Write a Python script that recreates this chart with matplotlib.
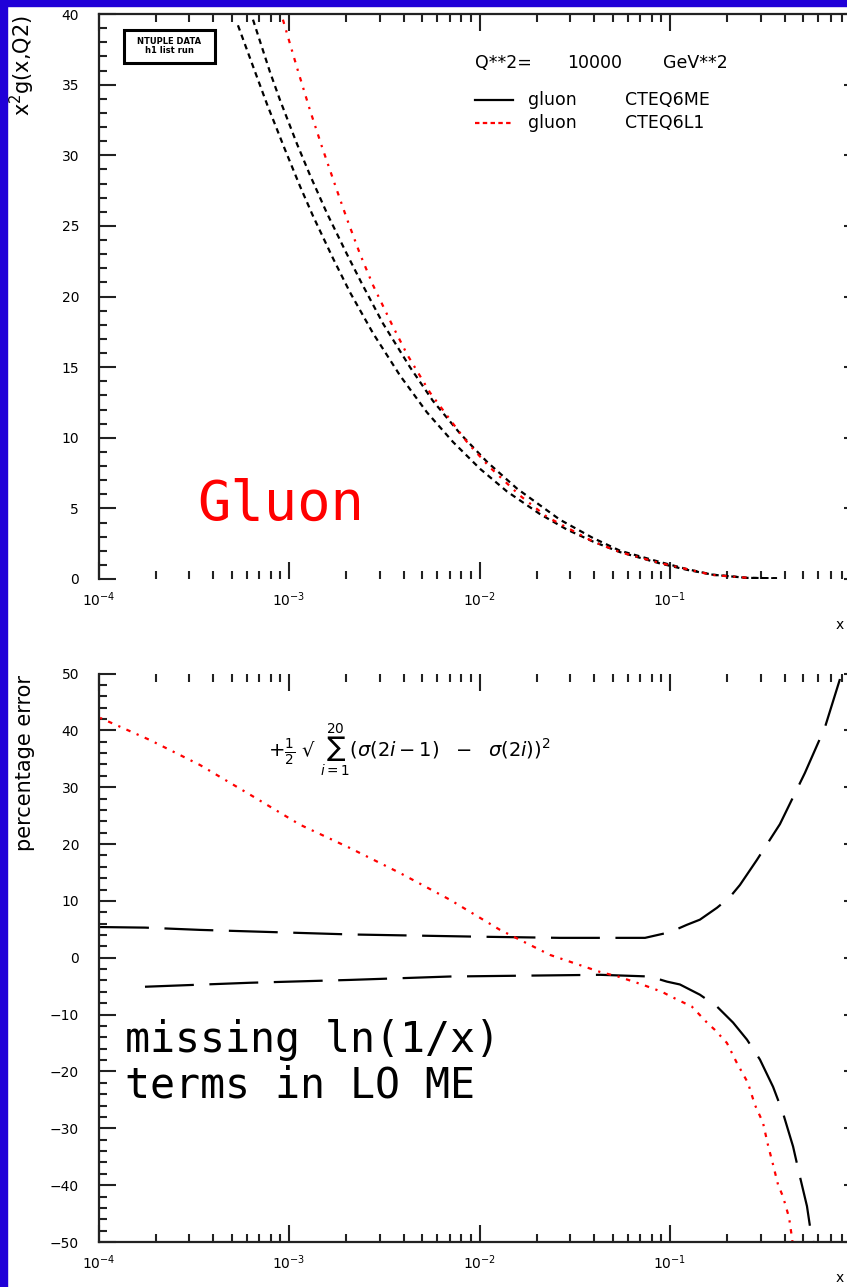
import numpy as np
import matplotlib
matplotlib.use("Agg")
import matplotlib.pyplot as plt
import matplotlib.ticker as mticker
from matplotlib.patches import Rectangle

# --- data ---
# top panel: x^2 g(x,Q2) at Q2 = 10000 GeV^2, log10(x) and value
lx_lo = [-3.268, -3.178, -3.115, -3.021, -2.942, -2.874, -2.769, -2.680, -2.559, -2.417,
         -2.276, -2.139, -1.997, -1.856, -1.683, -1.541, -1.404, -1.262, -1.052, -0.911,
         -0.774, -0.596, -0.438]
g_lo = [39.2, 35.9, 33.6, 30.4, 27.8, 25.7, 22.7, 20.3, 17.4, 14.4,
        11.8, 9.7, 7.8, 6.2, 4.6, 3.5, 2.65, 1.9, 1.1, 0.65,
        0.3, 0.08, 0.05]
lx_hi = [-3.189, -3.100, -3.047, -2.958, -2.890, -2.801, -2.696, -2.617, -2.507, -2.365,
         -2.244, -2.102, -1.961, -1.803, -1.578, -1.404, -1.262, -1.052, -0.911, -0.774,
         -0.596, -0.438]
g_hi = [39.6, 35.9, 33.9, 30.8, 28.6, 25.9, 23.0, 20.9, 18.1, 15.0,
        12.6, 10.3, 8.3, 6.4, 4.2, 2.9, 2.0, 1.2, 0.7, 0.3,
        0.08, 0.05]
lx_l1 = [-3.032, -2.958, -2.890, -2.827, -2.748, -2.696, -2.627, -2.559, -2.459, -2.380,
         -2.260, -2.139, -2.060, -1.945, -1.787, -1.646, -1.404, -1.262, -1.052, -0.774,
         -0.580]
g_l1 = [39.6, 36.2, 33.2, 30.6, 27.5, 25.5, 23.0, 20.8, 18.0, 15.9,
        13.2, 11.0, 9.6, 7.9, 5.9, 4.4, 2.65, 1.9, 1.13, 0.28,
        0.07]

# bottom panel: percentage error
lx_eu = [-3.992, -3.756, -3.467, -3.073, -2.680, -1.997, -1.578, -1.131, -1.000, -0.911,
         -0.843, -0.753, -0.685, -0.633, -0.544, -0.423, -0.292, -0.187, -0.108, -0.08]
err_up = [5.4, 5.3, 4.9, 4.5, 4.1, 3.7, 3.5, 3.5, 4.5, 5.8,
          6.7, 8.8, 10.7, 12.8, 17.2, 23.5, 32.5, 40.5, 49.0, 53.0]
lx_ed = [-3.756, -3.205, -2.680, -2.155, -1.367, -1.105, -1.016, -0.948, -0.843, -0.753,
         -0.669, -0.596, -0.528, -0.459, -0.407, -0.354, -0.318, -0.281, -0.265, -0.249,
         -0.24]
err_dn = [-5.1, -4.4, -3.9, -3.3, -3.0, -3.3, -4.2, -4.7, -6.5, -8.6,
          -11.4, -14.4, -17.9, -22.7, -27.3, -33.2, -38.5, -43.7, -47.3, -49.6,
          -52.0]
lx_r = [-3.992, -3.730, -3.467, -3.205, -2.942, -2.680, -2.417, -2.155, -1.892, -1.630,
        -1.367, -1.273, -1.147, -1.042, -0.990, -0.885, -0.806, -0.764, -0.701, -0.649,
        -0.591, -0.554, -0.512, -0.486, -0.459, -0.433, -0.407, -0.375, -0.360, -0.35]
err_l1 = [42.2, 38.3, 33.9, 28.7, 23.4, 19.3, 14.9, 10.2, 4.9, 0.5,
          -2.5, -3.3, -4.7, -6.0, -6.9, -8.6, -11.4, -12.7, -15.0, -18.5,
          -22.0, -25.9, -29.0, -32.9, -36.4, -39.9, -42.0, -45.7, -49.2, -52.0]

x_ticks = [1e-4, 1e-3, 1e-2, 1e-1, 1]
x_ticklabels = [r"$10^{-4}$", r"$10^{-3}$", r"$10^{-2}$", r"$10^{-1}$", ""]

W, H = 847, 1287
fig = plt.figure(figsize=(W / 100, H / 100), dpi=100)
fig.patch.set_facecolor("white")

blue = "#2000d8"
fig.patches.append(Rectangle((0, 0), 7 / W, 1, transform=fig.transFigure, color=blue, zorder=10))
fig.patches.append(Rectangle((0, 1 - 6 / H), 1, 6 / H, transform=fig.transFigure, color=blue, zorder=10))

left = 98.5 / W
width = (860.5 - 98.5) / W
ax1 = fig.add_axes([left, 1 - 579 / H, width, 565 / H])
ax2 = fig.add_axes([left, 1 - 1242 / H, width, 568.5 / H])


def style_axes(ax):
    ax.set_xscale("log")
    ax.set_xlim(1e-4, 1)
    ax.set_xticks(x_ticks, labels=x_ticklabels)
    ax.xaxis.set_minor_locator(mticker.LogLocator(base=10, subs=np.arange(2, 10), numticks=10))
    ax.xaxis.set_minor_formatter(mticker.NullFormatter())
    ax.tick_params(which="both", direction="in", top=True, right=True, width=1.5,
                   labelsize=10, color="#222222")
    ax.tick_params(which="major", length=12)
    ax.tick_params(which="minor", length=6)
    ax.tick_params(axis="y", pad=14)
    ax.tick_params(axis="x", pad=8)
    for s in ax.spines.values():
        s.set_linewidth(1.6)
        s.set_color("#222222")


# --- top panel ---
style_axes(ax1)
ax1.set_ylim(0, 40)
ax1.yaxis.set_major_locator(mticker.MultipleLocator(5))
ax1.yaxis.set_minor_locator(mticker.MultipleLocator(1))
ax1.spines["bottom"].set_visible(False)

ax1.plot(10 ** np.array(lx_lo), g_lo, color="black", lw=1.6, ls=(0, (2.5, 2)))
ax1.plot(10 ** np.array(lx_hi), g_hi, color="black", lw=1.6, ls=(0, (2.5, 2)))
ax1.plot(10 ** np.array(lx_l1), g_l1, color="red", lw=1.6, ls=(0, (2, 3, 1, 3)))

# small stamp box in the corner
ax1.add_patch(Rectangle((0.0335, 0.913), 0.119, 0.059, transform=ax1.transAxes,
                        fc="white", ec="black", lw=2.2))
ax1.text(0.093, 0.9425, "NTUPLE DATA\nh1 list run", transform=ax1.transAxes, fontsize=6,
         ha="center", va="center", linespacing=1.0, fontweight="bold")

fs = 12.5
ax1.text(0.494, 0.913, "Q**2=", transform=ax1.transAxes, fontsize=fs, va="center")
ax1.text(0.615, 0.913, "10000", transform=ax1.transAxes, fontsize=fs, va="center")
ax1.text(0.741, 0.913, "GeV**2", transform=ax1.transAxes, fontsize=fs, va="center")
ax1.plot([0.494, 0.544], [0.848, 0.848], transform=ax1.transAxes, color="black", lw=1.6)
ax1.plot([0.494, 0.544], [0.807, 0.807], transform=ax1.transAxes, color="red", lw=1.6,
         ls=(0, (2, 1.5)))
ax1.text(0.564, 0.848, "gluon", transform=ax1.transAxes, fontsize=fs, va="center")
ax1.text(0.691, 0.848, "CTEQ6ME", transform=ax1.transAxes, fontsize=fs, va="center")
ax1.text(0.564, 0.807, "gluon", transform=ax1.transAxes, fontsize=fs, va="center")
ax1.text(0.691, 0.807, "CTEQ6L1", transform=ax1.transAxes, fontsize=fs, va="center")

ax1.text(197 / W, 1 - 505 / H, "Gluon", transform=fig.transFigure, color="red",
         family="DejaVu Sans Mono", fontsize=40, ha="left", va="center")
fig.text(22 / W, 1 - 15 / H, r"x$^2$g(x,Q2)", rotation=90, ha="center", va="top", fontsize=15)

# --- bottom panel ---
style_axes(ax2)
ax2.set_ylim(-50, 50)
ax2.yaxis.set_major_locator(mticker.MultipleLocator(10))
ax2.yaxis.set_minor_locator(mticker.MultipleLocator(2))
ax2.spines["top"].set_visible(False)

ax2.plot(10 ** np.array(lx_eu), err_up, color="black", lw=1.6, ls=(0, (22, 7)))
ax2.plot(10 ** np.array(lx_ed), err_dn, color="black", lw=1.6, ls=(0, (22, 7)))
ax2.plot(10 ** np.array(lx_r), err_l1, color="red", lw=1.6, ls=(0, (1, 3, 2, 3)))

ax2.text(268 / W, 1 - 750 / H,
         r"$+\frac{1}{2}$ √ $\sum_{i=1}^{20}(\sigma(2i-1)\ \ -\ \ \sigma(2i))^2$",
         transform=fig.transFigure, fontsize=14, ha="left", va="center")
fig.text(125 / W, 1 - 1063 / H, "missing ln(1/x)\nterms in LO ME", family="DejaVu Sans Mono",
         fontsize=30, ha="left", va="center", linespacing=1.1)
fig.text(25 / W, 1 - 675 / H, "percentage error", rotation=90, ha="center", va="top", fontsize=15)

fig.text(836 / W, 1 - 625 / H, "x", fontsize=10, ha="left", va="center")
fig.text(836 / W, 1 - 1278 / H, "x", fontsize=10, ha="left", va="center")

fig.savefig("out.png", dpi=100)
